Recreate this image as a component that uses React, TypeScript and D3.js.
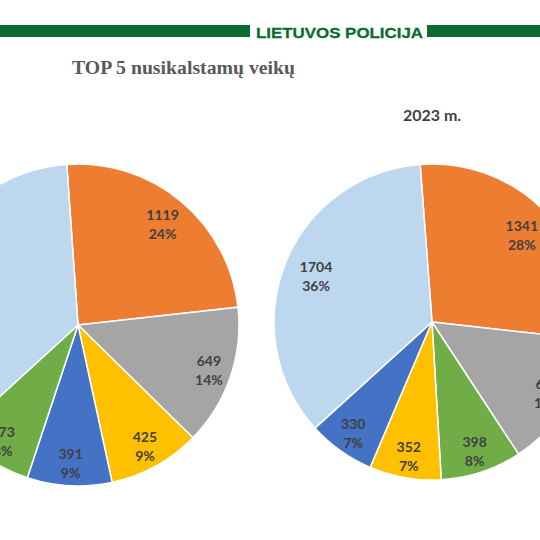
import React from "react";
import * as d3 from "d3";

// Data
const leftValues = [1119, 649, 425, 391, 373, 1640];
const leftColors = ["#ED7D31", "#A5A5A5", "#FFC000", "#4472C4", "#70AD47", "#BDD7EE"];
const rightValues = [1341, 672, 398, 352, 330, 1704];
const rightColors = ["#ED7D31", "#A5A5A5", "#70AD47", "#FFC000", "#4472C4", "#BDD7EE"];
const titleText = "TOP 5 nusikalstamų veikų";
const headerText = "LIETUVOS POLICIJA";
const rightYear = "2023 m.";

const W = 540;
const H = 540;
const GREEN = "#0A6B33";
const LABEL = "#404040";

type PieProps = {
  values: number[];
  colors: string[];
  cx: number;
  cy: number;
  r: number;
  startDeg: number;
  bigRatio: number;
};

function Pie({ values, colors, cx, cy, r, startDeg, bigRatio }: PieProps) {
  const start = (startDeg * Math.PI) / 180;
  const pie = d3
    .pie<number>()
    .sort(null)
    .value((d) => d)
    .startAngle(start)
    .endAngle(start + 2 * Math.PI);
  const arcs = pie(values);
  const total = d3.sum(values);
  const arc = d3.arc<d3.PieArcDatum<number>>().innerRadius(0).outerRadius(r);
  const fmt = d3.format(".0%");
  return (
    <g transform={`translate(${cx},${cy})`}>
      {arcs.map((a, i) => (
        <path key={i} d={arc(a) || ""} fill={colors[i]} stroke="#fff" strokeWidth={1.5} />
      ))}
      {arcs.map((a, i) => {
        const share = a.data / total;
        const ratio = share > 0.2 ? bigRatio : 0.86;
        const lr = r * ratio;
        const [x, y] = d3.arc<d3.PieArcDatum<number>>().innerRadius(lr).outerRadius(lr).centroid(a);
        return (
          <text
            key={"l" + i}
            x={x}
            y={y}
            textAnchor="middle"
            fontFamily="Lato, 'Liberation Sans', sans-serif"
            fontWeight="bold"
            fontSize={14}
            fill={LABEL}
          >
            <tspan x={x} dy={-4}>{a.data}</tspan>
            <tspan x={x} dy={19}>{fmt(share)}</tspan>
          </text>
        );
      })}
    </g>
  );
}

export default function App() {
  return (
    <svg
      width={W}
      height={H}
      viewBox={`0 0 ${W} ${H}`}
      style={{ position: "absolute", left: 0, top: 0, background: "#fff" }}
    >
      <rect x={0} y={0} width={W} height={H} fill="#fff" />
      {/* header */}
      <rect x={0} y={25} width={250} height={12} fill={GREEN} />
      <rect x={427} y={25} width={113} height={12} fill={GREEN} />
      <text
        x={256}
        y={37.5}
        fontFamily="'Liberation Sans', Arial, sans-serif"
        fontWeight="bold"
        fontSize={15.5}
        fill={GREEN}
        stroke={GREEN}
        strokeWidth={0.3}
        textLength={167}
        lengthAdjust="spacingAndGlyphs"
      >
        {headerText}
      </text>
      {/* title */}
      <text
        x={72}
        y={74}
        fontFamily="'Liberation Serif', 'Times New Roman', serif"
        fontWeight="bold"
        fontSize={19}
        fill="#595959"
        textLength={223}
        lengthAdjust="spacingAndGlyphs"
      >
        {titleText}
      </text>
      <text
        x={432}
        y={121}
        textAnchor="middle"
        fontFamily="Lato, 'Liberation Sans', sans-serif"
        fontWeight="bold"
        fontSize={16}
        fill={LABEL}
      >
        {rightYear}
      </text>
      <Pie values={leftValues} colors={leftColors} cx={78} cy={325} r={161} startDeg={-4} bigRatio={0.82} />
      <Pie values={rightValues} colors={rightColors} cx={432} cy={322} r={158} startDeg={-4.3} bigRatio={0.79} />
    </svg>
  );
}
